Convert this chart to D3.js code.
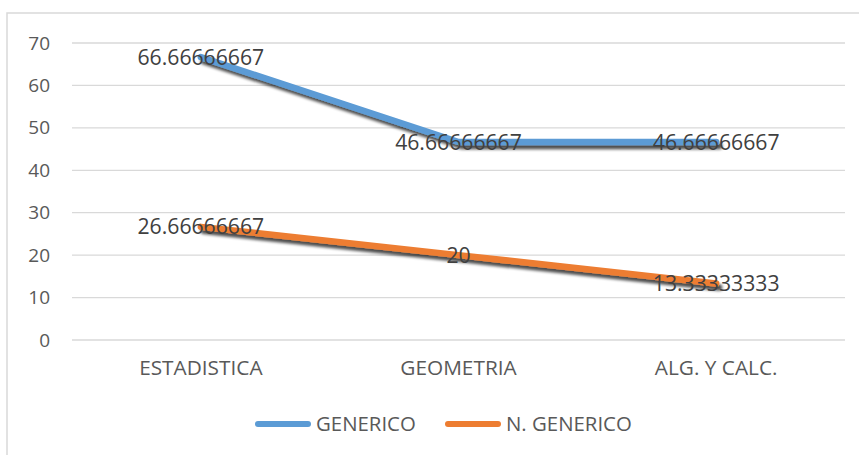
<!DOCTYPE html>
<html><head><meta charset="utf-8">
<script src="https://cdn.jsdelivr.net/npm/d3@7"></script>
<style>body{margin:0;background:#fff}svg{display:block}text{font-family:"Open Sans",sans-serif}</style>
</head><body><svg id="c" width="859" height="455"></svg>
<script>
const categories = ["ESTADISTICA", "GEOMETRIA", "ALG. Y CALC."];
const generico = [66.66666667, 46.66666667, 46.66666667];
const nGenerico = [26.66666667, 20, 13.33333333];
const seriesNames = ["GENERICO", "N. GENERICO"];
const colors = ["#5B9BD5", "#ED7D31"];
const yTicks = [0, 10, 20, 30, 40, 50, 60, 70];

const svg = d3.select("#c");
const defs = svg.append("defs");
const f = defs.append("filter").attr("id","sh").attr("x","-10%").attr("y","-50%").attr("width","130%").attr("height","200%");
f.append("feGaussianBlur").attr("in","SourceAlpha").attr("stdDeviation",1.8).attr("result","b");
f.append("feOffset").attr("in","b").attr("dx",3).attr("dy",3.5).attr("result","o");
f.append("feComponentTransfer").attr("in","o").attr("result","o2")
  .append("feFuncA").attr("type","linear").attr("slope",0.7);
const m = f.append("feMerge");
m.append("feMergeNode").attr("in","o2");
m.append("feMergeNode").attr("in","SourceGraphic");

// border
svg.append("rect").attr("x",7).attr("y",13).attr("width",900).attr("height",500)
  .attr("fill","none").attr("stroke","#d9d9d9").attr("stroke-width",1.5);

const x = d3.scaleBand().domain(categories).range([72, 845]);
const y = d3.scaleLinear().domain([0, 70]).range([340, 43]);

// grid
svg.append("g").selectAll("line").data(yTicks).join("line")
  .attr("x1",72).attr("x2",845).attr("y1",d=>y(d)).attr("y2",d=>y(d))
  .attr("stroke","#d9d9d9").attr("stroke-width",1.3);

// y axis labels
const yAxis = svg.append("g").attr("transform","translate(50,0)")
  .call(d3.axisLeft(y).tickValues(yTicks).tickSize(0).tickPadding(0));
yAxis.select(".domain").remove();
yAxis.selectAll("text").attr("font-size",19).attr("fill","#595959").attr("font-family","Open Sans");

// x axis labels
const xAxis = svg.append("g").attr("transform","translate(0,360)")
  .call(d3.axisBottom(x).tickSize(0).tickPadding(0));
xAxis.select(".domain").remove();
xAxis.selectAll("text").attr("font-size",20.8).attr("fill","#595959").attr("font-family","Open Sans").attr("dy","0.71em");

const cx = d => x(d) + x.bandwidth()/2;
const line = d3.line().x(d=>cx(d.c)).y(d=>y(d.v));
const series = [generico, nGenerico];
series.forEach((vals,i)=>{
  const pts = vals.map((v,j)=>({c:categories[j], v}));
  svg.append("path").datum(pts).attr("d",line).attr("fill","none")
    .attr("stroke",colors[i]).attr("stroke-width",6.5).attr("stroke-linejoin","round")
    .attr("stroke-linecap","round").attr("filter","url(#sh)");
});
series.forEach((vals,i)=>{
  svg.append("g").selectAll("text").data(vals).join("text")
    .attr("x",(d,j)=>cx(categories[j])).attr("y",d=>y(d))
    .attr("dy","0.36em").attr("text-anchor","middle")
    .attr("font-size",21.2).attr("fill","#404040")
    .text(d=>String(d));
});

// legend
const leg = [{x:255, tx:316},{x:445, tx:506}];
seriesNames.forEach((n,i)=>{
  svg.append("line").attr("x1",leg[i].x+3).attr("x2",leg[i].x+53).attr("y1",424).attr("y2",424)
    .attr("stroke",colors[i]).attr("stroke-width",6).attr("stroke-linecap","round");
  svg.append("text").attr("x",leg[i].tx).attr("y",424).attr("dy","0.36em")
    .attr("font-size",20.4).attr("fill","#595959").text(n);
});
</script></body></html>
